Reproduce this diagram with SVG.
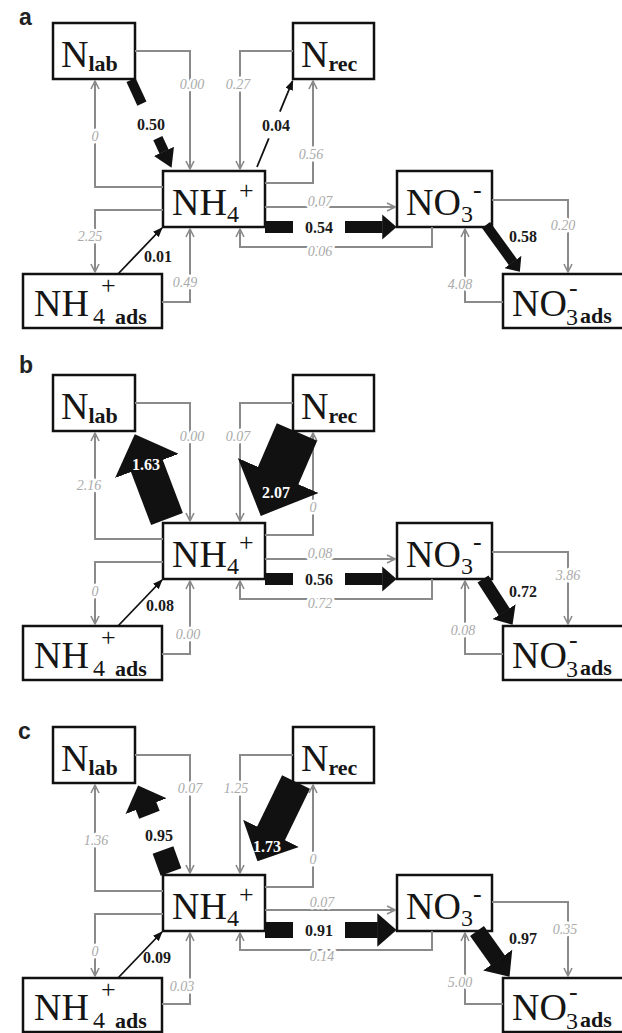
<svg xmlns="http://www.w3.org/2000/svg" width="622" height="1033" viewBox="0 0 622 1033">
<style>
.box{fill:#fff;stroke:#111;stroke-width:2.5}
.nt{font-family:"Liberation Serif","Times New Roman","DejaVu Serif",serif;font-size:38px;fill:#151515}
.sb{font-family:"Liberation Serif","Times New Roman","DejaVu Serif",serif;font-size:22px;font-weight:bold}
.sn{font-size:24px}
.sp{font-size:26px}
.gline{fill:none;stroke:#8a8a8a;stroke-width:2}
.gl{font-family:"Liberation Serif","Times New Roman","DejaVu Serif",serif;font-style:italic;font-size:14px;fill:#aaaaaa;text-anchor:middle;stroke:#fff;stroke-width:5;stroke-linejoin:round;paint-order:stroke}
.bl{font-family:"Liberation Serif","Times New Roman","DejaVu Serif",serif;font-weight:bold;font-size:16px;fill:#1a1a1a;text-anchor:middle}
.wl{font-family:"Liberation Serif","Times New Roman","DejaVu Serif",serif;font-weight:bold;font-size:16px;fill:#fff;text-anchor:middle}
.blk{stroke:#111;fill:none}
.thin{stroke:#111;stroke-width:1.8;fill:none}
.plab{font-family:"Liberation Sans",Arial,sans-serif;font-weight:bold;font-size:23px;fill:#222}
</style>
<defs>
<marker id="ga" viewBox="0 0 10 10" refX="9" refY="5" markerWidth="10" markerHeight="10" markerUnits="userSpaceOnUse" orient="auto"><path d="M1,1 L9,5 L1,9" fill="none" stroke="#8a8a8a" stroke-width="1.6"/></marker>
<marker id="th" viewBox="0 0 10 8" refX="9" refY="4" markerWidth="10" markerHeight="8" markerUnits="userSpaceOnUse" orient="auto"><path d="M0,0 L10,4 L0,8 z" fill="#111"/></marker>
<marker id="bh" viewBox="0 0 12 21" refX="0.3" refY="10.5" markerWidth="1.2" markerHeight="2.1" orient="auto"><path d="M0,0 L12,10.5 L0,21 z" fill="#111"/></marker>
<marker id="bh1" viewBox="0 0 10 20" refX="0.3" refY="10" markerWidth="1" markerHeight="2" orient="auto"><path d="M0,0 L10,10 L0,20 z" fill="#111"/></marker>
<marker id="bh2" viewBox="0 0 18 22" refX="0.3" refY="11" markerWidth="1.8" markerHeight="2.2" orient="auto"><path d="M0,0 L18,11 L0,22 z" fill="#111"/></marker>
</defs>
<rect width="622" height="1033" fill="#fff"/>

<!-- ===== Panel a ===== -->
<g id="panel-a">
<text class="plab" x="19" y="25">a</text>
<g id="a-nlab"><rect class="box" x="53" y="23" width="82" height="56"/><text class="nt" x="61" y="67">N<tspan class="sb" y="71">lab</tspan></text></g>
<g id="a-nrec"><rect class="box" x="293" y="23" width="81" height="56"/><text class="nt" x="301" y="67">N<tspan class="sb" y="71">rec</tspan></text></g>
<g id="a-nh4"><rect class="box" x="163" y="171" width="102" height="56"/><text class="nt" x="172" y="215">NH<tspan class="sn" y="222">4</tspan><tspan class="sp" y="199">+</tspan></text></g>
<g id="a-no3"><rect class="box" x="397" y="171" width="95" height="56"/><text class="nt" x="406" y="215">NO<tspan class="sn" y="222">3</tspan><tspan class="sp" y="198">-</tspan></text></g>
<g id="a-nh4ads"><rect class="box" x="23" y="274" width="139" height="54"/><text class="nt" x="34" y="316" font-size="40">NH<tspan class="sn" x="93" y="324">4</tspan><tspan class="sp" x="101" y="294">+</tspan><tspan class="sb" x="115" y="324" font-size="23">ads</tspan></text></g>
<g id="a-no3ads"><rect class="box" x="503" y="274" width="125" height="54"/><text class="nt" x="512" y="316">NO<tspan class="sn" x="566" y="325">3</tspan><tspan class="sp" x="569" y="296">-</tspan><tspan class="sb" x="580" y="323" font-size="23">ads</tspan></text></g>
<g id="a-connectors">
<path class="gline" marker-end="url(#ga)" d="M135,51 H190 V169"/>
<path class="gline" marker-end="url(#ga)" d="M293,51 H240 V169"/>
<path class="gline" marker-end="url(#ga)" d="M265,183 H313 V81"/>
<path class="gline" marker-end="url(#ga)" d="M163,187 H95 V81"/>
<path class="gline" marker-end="url(#ga)" d="M163,210 H95 V272"/>
<path class="gline" marker-end="url(#ga)" d="M162,302 H190 V229"/>
<path class="gline" marker-end="url(#ga)" d="M265,207 H395"/>
<path class="gline" marker-end="url(#ga)" d="M432,227 V247 H240 V229"/>
<path class="gline" marker-end="url(#ga)" d="M492,200 H568 V272"/>
<path class="gline" marker-end="url(#ga)" d="M503,302 H465 V229"/>
<text class="gl" x="192" y="89">0.00</text>
<text class="gl" x="238" y="89">0.27</text>
<text class="gl" x="311" y="159">0.56</text>
<text class="gl" x="95" y="141">0</text>
<text class="gl" x="90" y="241">2.25</text>
<text class="gl" x="185" y="287">0.49</text>
<text class="gl" x="320" y="206">0.07</text>
<text class="gl" x="320" y="256">0.06</text>
<text class="gl" x="563" y="230">0.20</text>
<text class="gl" x="460" y="289">4.08</text>
<line class="blk" stroke-width="10" x1="131" y1="80" x2="141.9" y2="103.6"/>
<line class="blk" stroke-width="10" x1="157.8" y1="138.1" x2="164.1" y2="151.7" marker-end="url(#bh2)"/>
<text class="bl" x="151" y="130">0.50</text>
<line class="thin" x1="257" y1="167" x2="268.8" y2="138.4"/>
<line class="thin" x1="279.9" y1="111.6" x2="292.6" y2="81" marker-end="url(#th)"/>
<text class="bl" x="276" y="131">0.04</text>
<line class="thin" x1="118" y1="274" x2="162" y2="228" marker-end="url(#th)"/>
<text class="bl" x="158" y="262">0.01</text>
<line class="blk" stroke-width="12" x1="265" y1="227" x2="293" y2="227"/>
<line class="blk" stroke-width="12" x1="345" y1="227" x2="382.6" y2="227" marker-end="url(#bh)"/>
<text class="bl" x="319" y="233">0.54</text>
<line class="blk" stroke-width="10" x1="486" y1="225" x2="513" y2="262.2" marker-end="url(#bh)"/>
<text class="bl" x="523" y="242">0.58</text>
</g>
</g>

<!-- ===== Panel b ===== -->
<g id="panel-b" transform="translate(0,352)">
<text class="plab" x="19" y="21">b</text>
<g id="b-nlab"><rect class="box" x="53" y="23" width="82" height="56"/><text class="nt" x="61" y="67">N<tspan class="sb" y="71">lab</tspan></text></g>
<g id="b-nrec"><rect class="box" x="293" y="23" width="81" height="56"/><text class="nt" x="301" y="67">N<tspan class="sb" y="71">rec</tspan></text></g>
<g id="b-nh4"><rect class="box" x="163" y="171" width="102" height="56"/><text class="nt" x="172" y="215">NH<tspan class="sn" y="222">4</tspan><tspan class="sp" y="199">+</tspan></text></g>
<g id="b-no3"><rect class="box" x="397" y="171" width="95" height="56"/><text class="nt" x="406" y="215">NO<tspan class="sn" y="222">3</tspan><tspan class="sp" y="198">-</tspan></text></g>
<g id="b-nh4ads"><rect class="box" x="23" y="274" width="139" height="54"/><text class="nt" x="34" y="316" font-size="40">NH<tspan class="sn" x="93" y="324">4</tspan><tspan class="sp" x="101" y="294">+</tspan><tspan class="sb" x="115" y="324" font-size="23">ads</tspan></text></g>
<g id="b-no3ads"><rect class="box" x="503" y="274" width="125" height="54"/><text class="nt" x="512" y="316">NO<tspan class="sn" x="566" y="325">3</tspan><tspan class="sp" x="569" y="296">-</tspan><tspan class="sb" x="580" y="323" font-size="23">ads</tspan></text></g>
<g id="b-connectors">
<path class="gline" marker-end="url(#ga)" d="M135,51 H190 V169"/>
<path class="gline" marker-end="url(#ga)" d="M293,51 H240 V169"/>
<path class="gline" marker-end="url(#ga)" d="M265,183 H313 V81"/>
<path class="gline" marker-end="url(#ga)" d="M163,187 H95 V81"/>
<path class="gline" marker-end="url(#ga)" d="M163,210 H95 V272"/>
<path class="gline" marker-end="url(#ga)" d="M162,302 H190 V229"/>
<path class="gline" marker-end="url(#ga)" d="M265,207 H395"/>
<path class="gline" marker-end="url(#ga)" d="M432,227 V247 H240 V229"/>
<path class="gline" marker-end="url(#ga)" d="M492,200 H568 V272"/>
<path class="gline" marker-end="url(#ga)" d="M503,302 H465 V229"/>
<text class="gl" x="192" y="89">0.00</text>
<text class="gl" x="238" y="89">0.07</text>
<text class="gl" x="313" y="160">0</text>
<text class="gl" x="89" y="138">2.16</text>
<text class="gl" x="95" y="244">0</text>
<text class="gl" x="188" y="287">0.00</text>
<text class="gl" x="320" y="206">0.08</text>
<text class="gl" x="320" y="256">0.72</text>
<text class="gl" x="568" y="228">3.86</text>
<text class="gl" x="463" y="283">0.08</text>
<line class="blk" stroke-width="34" x1="167" y1="167" x2="146.5" y2="113" marker-end="url(#bh1)"/>
<text class="wl" x="146" y="118">1.63</text>
<line class="blk" stroke-width="44" x1="297" y1="80" x2="277.7" y2="124.7" marker-end="url(#bh1)"/>
<text class="wl" x="276" y="146">2.07</text>
<line class="thin" x1="118" y1="274" x2="162" y2="228" marker-end="url(#th)"/>
<text class="bl" x="160" y="259">0.08</text>
<line class="blk" stroke-width="12" x1="265" y1="227" x2="293" y2="227"/>
<line class="blk" stroke-width="12" x1="345" y1="227" x2="382.6" y2="227" marker-end="url(#bh)"/>
<text class="bl" x="319" y="233">0.56</text>
<line class="blk" stroke-width="13" x1="483" y1="227" x2="504.3" y2="260" marker-end="url(#bh)"/>
<text class="bl" x="523" y="245">0.72</text>
</g>
</g>

<!-- ===== Panel c ===== -->
<g id="panel-c" transform="translate(0,704)">
<text class="plab" x="18" y="35">c</text>
<g id="c-nlab"><rect class="box" x="53" y="23" width="82" height="56"/><text class="nt" x="61" y="67">N<tspan class="sb" y="71">lab</tspan></text></g>
<g id="c-nrec"><rect class="box" x="293" y="23" width="81" height="56"/><text class="nt" x="301" y="67">N<tspan class="sb" y="71">rec</tspan></text></g>
<g id="c-nh4"><rect class="box" x="163" y="171" width="102" height="56"/><text class="nt" x="172" y="215">NH<tspan class="sn" y="222">4</tspan><tspan class="sp" y="199">+</tspan></text></g>
<g id="c-no3"><rect class="box" x="397" y="171" width="95" height="56"/><text class="nt" x="406" y="215">NO<tspan class="sn" y="222">3</tspan><tspan class="sp" y="198">-</tspan></text></g>
<g id="c-nh4ads"><rect class="box" x="23" y="274" width="139" height="54"/><text class="nt" x="34" y="316" font-size="40">NH<tspan class="sn" x="93" y="324">4</tspan><tspan class="sp" x="101" y="294">+</tspan><tspan class="sb" x="115" y="324" font-size="23">ads</tspan></text></g>
<g id="c-no3ads"><rect class="box" x="503" y="274" width="125" height="54"/><text class="nt" x="512" y="316">NO<tspan class="sn" x="566" y="325">3</tspan><tspan class="sp" x="569" y="296">-</tspan><tspan class="sb" x="580" y="323" font-size="23">ads</tspan></text></g>
<g id="c-connectors">
<path class="gline" marker-end="url(#ga)" d="M135,51 H190 V169"/>
<path class="gline" marker-end="url(#ga)" d="M293,51 H240 V169"/>
<path class="gline" marker-end="url(#ga)" d="M265,183 H313 V81"/>
<path class="gline" marker-end="url(#ga)" d="M163,187 H95 V81"/>
<path class="gline" marker-end="url(#ga)" d="M163,210 H95 V272"/>
<path class="gline" marker-end="url(#ga)" d="M162,300 H190 V229"/>
<path class="gline" marker-end="url(#ga)" d="M265,206 H395"/>
<path class="gline" marker-end="url(#ga)" d="M432,227 V246 H240 V229"/>
<path class="gline" marker-end="url(#ga)" d="M492,198 H568 V272"/>
<path class="gline" marker-end="url(#ga)" d="M503,300 H465 V229"/>
<text class="gl" x="190" y="89">0.07</text>
<text class="gl" x="236" y="89">1.25</text>
<text class="gl" x="313" y="160">0</text>
<text class="gl" x="96" y="141">1.36</text>
<text class="gl" x="95" y="252">0</text>
<text class="gl" x="182" y="287">0.03</text>
<text class="gl" x="322" y="203">0.07</text>
<text class="gl" x="322" y="257">0.14</text>
<text class="gl" x="565" y="230">0.35</text>
<text class="gl" x="460" y="283">5.00</text>
<line class="blk" stroke-width="22" x1="171" y1="168" x2="163" y2="146"/>
<line class="blk" stroke-width="22" x1="149.4" y1="110.8" x2="145.8" y2="101.5" marker-end="url(#bh1)"/>
<text class="bl" x="159" y="137">0.95</text>
<line class="blk" stroke-width="31" x1="296" y1="78" x2="270.6" y2="130.2" marker-end="url(#bh1)"/>
<text class="wl" x="267" y="148">1.73</text>
<line class="thin" x1="118" y1="274" x2="162" y2="228" marker-end="url(#th)"/>
<text class="bl" x="157" y="259">0.09</text>
<line class="blk" stroke-width="16" x1="265" y1="226" x2="293" y2="226"/>
<line class="blk" stroke-width="16" x1="345" y1="226" x2="377.8" y2="226" marker-end="url(#bh)"/>
<text class="bl" x="319" y="232">0.91</text>
<line class="blk" stroke-width="17" x1="477" y1="227" x2="498" y2="256.5" marker-end="url(#bh)"/>
<text class="bl" x="523" y="240">0.97</text>
</g>
</g>
</svg>
